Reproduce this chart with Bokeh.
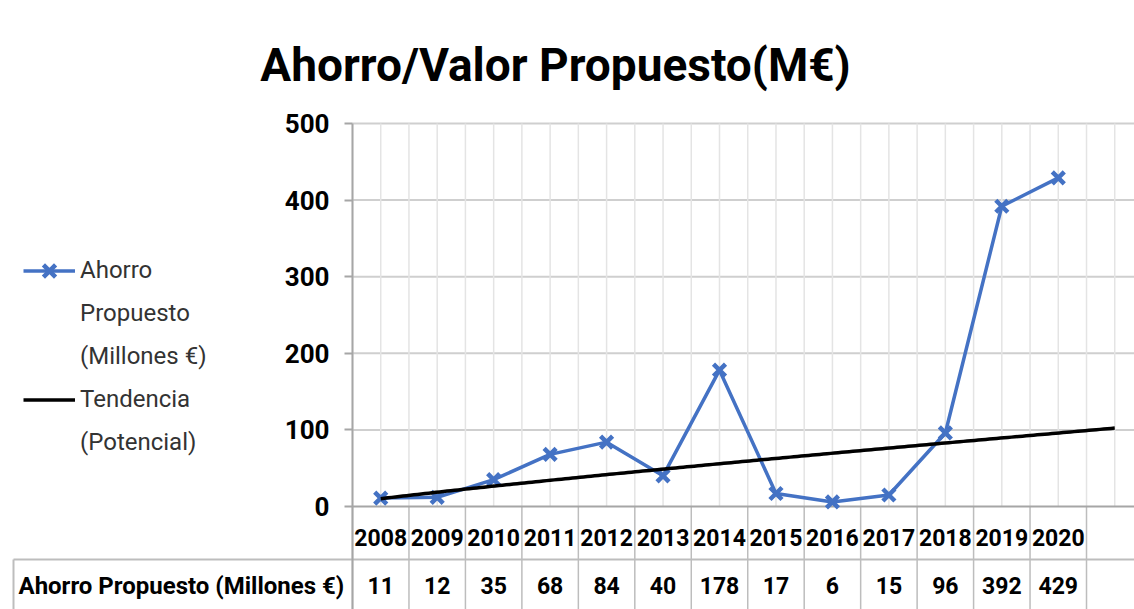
import numpy as np
from bokeh.plotting import figure
from bokeh.models import (FixedTicker, Range1d, Legend, LegendItem, Label,
                          ColumnDataSource)
from bokeh.embed import file_html
from bokeh.resources import INLINE
from bokeh.core.properties import value

# ---------------- data ----------------
title_text = "Ahorro/Valor Propuesto(M€)"
years = ["2008", "2009", "2010", "2011", "2012", "2013", "2014",
         "2015", "2016", "2017", "2018", "2019", "2020"]
ahorro = [11, 12, 35, 68, 84, 40, 178, 17, 6, 15, 96, 392, 429]
y_ticks = [0, 100, 200, 300, 400, 500]
series_name = "Ahorro Propuesto (Millones €)"
legend_series = ["Ahorro", "Propuesto", "(Millones €)"]
legend_trend = ["Tendencia", "(Potencial)"]

# ---------------- style ----------------
FONT = "Roboto"
BLUE = "#4472C4"
AXIS = "#A6A6A6"
HGRID = "#CFCFCF"
VGRID = "#E4E4E4"
TABLE_LINE = "#BDBDBD"

n_cat = len(years)
pos = np.arange(1, n_cat + 1)                      # category positions
bounds = np.arange(0.5, n_cat + 1.6, 1.0)          # column boundaries (incl. empty column)
centers = np.arange(1, n_cat + 2)                  # column centres (incl. empty column)

# power trend line ("Potencial") fitted to the data, one period forward
b, ln_a = np.polyfit(np.log(pos), np.log(ahorro), 1)
tx = np.linspace(1, n_cat + 1, 200)
ty = np.exp(ln_a) * tx ** b

# ---------------- page geometry (pixels) ----------------
W, H = 1134, 609
PX_L, PX_R = 352, 1134           # plot area left / right edge
PY_TOP, PY_ZERO = 123, 506       # y=500 and y=0
ppx = (PX_R - PX_L) / 13.85      # px per category
ppy = (PY_ZERO - PY_TOP) / 500.0 # px per unit

def xd(px):
    return 0.5 + (px - PX_L) / ppx

def yd(py):
    return (PY_ZERO - py) / ppy

x0, x1 = xd(0), xd(W)
y0, y1 = yd(H), yd(0)
xmax = xd(PX_R)

p = figure(width=W, height=H, x_range=Range1d(x0, x1), y_range=Range1d(y0, y1),
           x_axis_location=None, y_axis_location="left",
           output_backend="svg", toolbar_location=None,
           min_border_left=0, min_border_right=0, min_border_top=0, min_border_bottom=0)
p.outline_line_color = None
p.background_fill_color = "white"
p.border_fill_color = "white"
p.grid.visible = False

ax = p.yaxis[0]
ax.fixed_location = 0.5
ax.bounds = (y0, 500)
ax.ticker = FixedTicker(ticks=y_ticks)
ax.axis_line_color = AXIS
ax.axis_line_width = 2
ax.major_tick_line_color = AXIS
ax.major_tick_line_width = 2
ax.major_tick_out = 8
ax.major_tick_in = 0
ax.minor_tick_out = 0
ax.minor_tick_in = 0
ax.major_label_standoff = 15
ax.major_label_text_font = FONT
ax.major_label_text_font_style = "bold"
ax.major_label_text_font_size = "26px"
ax.major_label_text_color = "black"

# ---- grid lines of the plot area ----
hy = np.array(y_ticks[1:], dtype=float)
p.segment(x0=np.full_like(hy, 0.5), y0=hy, x1=np.full_like(hy, xmax), y1=hy,
          line_color=HGRID, line_width=2)
vx = np.concatenate([bounds, centers]).astype(float)
p.segment(x0=vx, y0=np.zeros_like(vx), x1=vx, y1=np.full_like(vx, 500.0),
          line_color=VGRID, line_width=1.5)

# ---- data table under the axis ----
row_split = yd(559)
hdr_y = yd(537)
val_y = yd(585)
box_x = xd(13)
p.segment(x0=bounds, y0=np.full_like(bounds, y0), x1=bounds, y1=np.zeros_like(bounds),
          line_color=TABLE_LINE, line_width=1.5)
p.segment(x0=[box_x], y0=[row_split], x1=[xmax], y1=[row_split],
          line_color=TABLE_LINE, line_width=2)
p.segment(x0=[box_x], y0=[y0], x1=[box_x], y1=[row_split],
          line_color=TABLE_LINE, line_width=2)
# x axis line
p.segment(x0=[0.5], y0=[0], x1=[xmax], y1=[0], line_color=AXIS, line_width=2)

hdr = ColumnDataSource(dict(x=pos, y=np.full(n_cat, hdr_y), text=years))
p.text(x="x", y="y", text="text", source=hdr, text_align="center", text_baseline="middle",
       text_font=value(FONT), text_font_style="bold", text_font_size="23px",
       text_color="black")

vals = ColumnDataSource(dict(x=pos, y=np.full(n_cat, val_y), text=[str(v) for v in ahorro]))
p.text(x="x", y="y", text="text", source=vals, text_align="center", text_baseline="middle",
       text_font=value(FONT), text_font_style="bold", text_font_size="23px",
       text_color="black")

p.text(x=[box_x], y=[val_y], text=[series_name], text_align="left", text_baseline="middle",
       text_font=value(FONT), text_font_style="bold", text_font_size="24px",
       text_color="black", x_offset=5)

# ---- series ----
r_line = p.line(pos, ahorro, line_color=BLUE, line_width=3.5)
r_mark = p.scatter(pos, ahorro, marker="x", size=17, line_color=BLUE, line_width=4.5)
r_trend = p.line(tx, ty, line_color="black", line_width=3.5)
# invisible renderer used for the continuation lines of the legend labels
r_blank = p.line(x=[], y=[], line_alpha=0)

items = [LegendItem(label=legend_series[0], renderers=[r_line, r_mark])]
items += [LegendItem(label=t, renderers=[r_blank]) for t in legend_series[1:]]
items += [LegendItem(label=legend_trend[0], renderers=[r_trend])]
items += [LegendItem(label=t, renderers=[r_blank]) for t in legend_trend[1:]]

PITCH = 43
legend = Legend(items=items, location=(23, H - (270 - PITCH / 2 + PITCH * len(items))))
legend.label_text_font = FONT
legend.label_text_font_size = "24px"
legend.label_text_color = "#333333"
legend.label_height = PITCH
legend.glyph_width = 52
legend.glyph_height = PITCH
legend.label_standoff = 5
legend.spacing = 0
legend.padding = 0
legend.margin = 0
legend.border_line_color = None
legend.background_fill_alpha = 0
p.add_layout(legend, "center")

p.add_layout(Label(x=555, y=H - 64, x_units="screen", y_units="screen",
                   text=title_text, text_align="center", text_baseline="alphabetic",
                   text_font=FONT, text_font_style="bold", text_font_size="46px",
                   text_color="black"))

open("out.html", "w").write(file_html(p, INLINE))
